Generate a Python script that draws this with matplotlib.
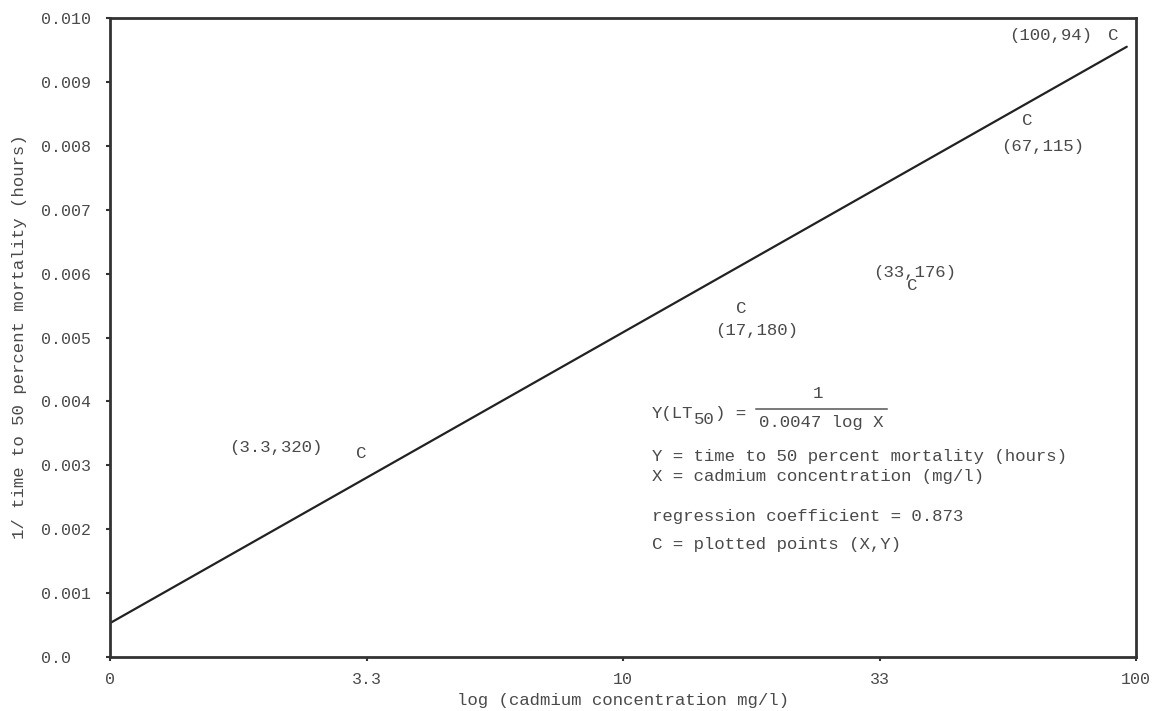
import matplotlib
matplotlib.use("Agg")
import matplotlib.pyplot as plt
from matplotlib.lines import Line2D

# ---- data ----
x_ticks = [0.0, 0.5, 1.0, 1.5, 2.0]                 # log10 positions
x_tick_labels = ["0", "3.3", "10", "33", "100"]
y_ticks = [0.0, 0.001, 0.002, 0.003, 0.004, 0.005, 0.006, 0.007, 0.008, 0.009, 0.010]
y_tick_labels = ["0.0", "0.001", "0.002", "0.003", "0.004", "0.005",
                 "0.006", "0.007", "0.008", "0.009", "0.010"]

# plotted points "C" (log concentration, 1/LT50) as placed in the picture
point_x = [0.489, 1.230, 1.563, 1.788, 1.955]
point_y = [0.00319, 0.00546, 0.00582, 0.00840, 0.00972]
point_labels = ["(3.3,320)", "(17,180)", "(33,176)", "(67,115)", "(100,94)"]

# regression line end points
line_x = [0.0, 1.982]
line_y = [0.00053, 0.00955]

W, H = 1154, 711
TXT = "#4a4a4a"
FONT = "Liberation Mono"
plt.rcParams["font.family"] = [FONT, "DejaVu Sans"]

fig = plt.figure(figsize=(W / 100, H / 100), dpi=100)
fig.patch.set_facecolor("white")
ax = fig.add_axes([110 / W, 1 - 657 / H, 1026 / W, 639 / H])
ax.set_facecolor("white")

ax.set_xlim(0, 2)
ax.set_ylim(0, 0.010)

for s in ax.spines.values():
    s.set_linewidth(2.0)
    s.set_color("#333333")

ax.plot(line_x, line_y, color="#222222", lw=1.6, solid_capstyle="round")

# label offsets (points) relative to each C
offsets = [(-61, 4), (11.5, -16), (2, 9.4), (11, -19), (-45, 0)]
for x, y, lab, off in zip(point_x, point_y, point_labels, offsets):
    ax.text(x, y, "C", ha="center", va="center", fontsize=12.5, color=TXT)
    ax.annotate(lab, (x, y), xytext=off, textcoords="offset points",
                ha="center", va="center", fontsize=12.5, color=TXT)

ax.set_xticks(x_ticks)
ax.set_xticklabels(x_tick_labels)
ax.set_yticks(y_ticks)
ax.set_yticklabels(y_tick_labels)
ax.tick_params(axis="x", direction="out", length=3, width=1.5, color="#333333",
               pad=8, labelsize=12, labelcolor=TXT)
ax.tick_params(axis="y", direction="out", length=3, width=1.5, color="#333333",
               pad=46.7, labelsize=12, labelcolor=TXT)
for lab in ax.get_yticklabels():
    lab.set_horizontalalignment("left")

ax.set_xlabel("log (cadmium concentration mg/l)", fontsize=12.5, color=TXT)
ax.xaxis.set_label_coords(0.5, (657 - 700) / 639)
ax.xaxis.label.set_va("center")
ax.set_ylabel("1/ time to 50 percent mortality (hours)", fontsize=12.5, color=TXT)
ax.yaxis.set_label_coords((20 - 110) / 1026, (657 - 337) / 639)
ax.yaxis.label.set_va("center")


def P(px, py):
    return px / W, 1 - py / H


fs = 12.5
fig.text(*P(652, 413), "Y(LT", ha="left", va="center", fontsize=fs, color=TXT)
fig.text(*P(694, 420), "50", ha="left", va="center", fontsize=fs, color=TXT)
fig.text(*P(715, 413), ") =", ha="left", va="center", fontsize=fs, color=TXT)
fig.text(*P(818, 393), "1", ha="center", va="center", fontsize=fs, color=TXT)
fig.text(*P(821, 423), "0.0047 log X", ha="center", va="center", fontsize=fs, color=TXT)
x0, y0 = P(756, 409)
x1, _ = P(887, 409)
fig.add_artist(Line2D([x0, x1], [y0, y0], transform=fig.transFigure,
                      color="#555555", lw=1.1))
fig.text(*P(652, 456), "Y = time to 50 percent mortality (hours)", ha="left",
         va="center", fontsize=fs, color=TXT)
fig.text(*P(652, 477), "X = cadmium concentration (mg/l)", ha="left",
         va="center", fontsize=fs, color=TXT)
fig.text(*P(652, 517), "regression coefficient = 0.873", ha="left",
         va="center", fontsize=fs, color=TXT)
fig.text(*P(652, 545), "C = plotted points (X,Y)", ha="left",
         va="center", fontsize=fs, color=TXT)

fig.savefig("out.png", dpi=100, facecolor="white")
